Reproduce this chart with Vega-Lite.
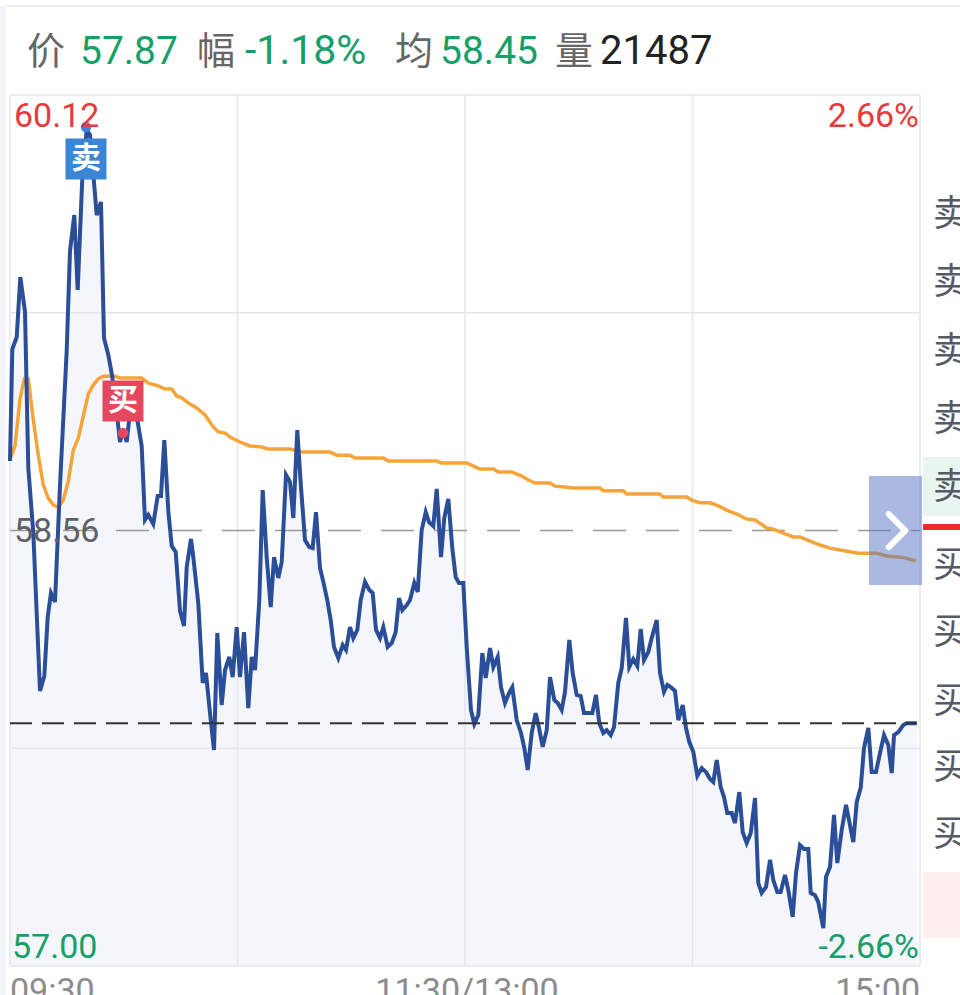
{
"$schema":"https://vega.github.io/schema/vega-lite/v6.json",
"width":960,"height":995,"autosize":"none","padding":0,"background":"white",
"config":{"view":{"stroke":null},"text":{"font":"Roboto, Noto Sans CJK SC, sans-serif"}},
"datasets":{
"price":[
{"t":0,"p":58.809},{"t":0.61,"p":59.21},{"t":1.77,"p":59.253},{"t":2.72,"p":59.468},{"t":3.96,"p":59.343},{"t":4.83,"p":58.784},{"t":6.15,"p":58.551},{"t":7.91,"p":57.985},{"t":9.05,"p":58.039},{"t":9.94,"p":58.25},{"t":10.81,"p":58.336},{"t":11.87,"p":58.304},{"t":13.19,"p":58.723},{"t":14.95,"p":59.203},{"t":15.82,"p":59.561},{"t":16.96,"p":59.69},{"t":17.85,"p":59.422},{"t":19.07,"p":59.823},{"t":20.23,"p":59.995},{"t":21.1,"p":59.977},{"t":21.97,"p":59.837},{"t":22.87,"p":59.69},{"t":24.0,"p":59.737},{"t":24.79,"p":59.25},{"t":25.93,"p":59.189},{"t":26.98,"p":59.11},{"t":28.14,"p":58.985},{"t":29.01,"p":58.877},{"t":29.88,"p":58.924},{"t":30.78,"p":58.877},{"t":31.65,"p":58.985},{"t":33.42,"p":58.97},{"t":34.73,"p":58.863},{"t":35.6,"p":58.598},{"t":36.48,"p":58.616},{"t":37.79,"p":58.583},{"t":38.95,"p":58.684},{"t":39.82,"p":58.684},{"t":40.7,"p":58.884},{"t":41.75,"p":58.63},{"t":42.65,"p":58.505},{"t":43.7,"p":58.483},{"t":44.84,"p":58.272},{"t":45.89,"p":58.218},{"t":46.6,"p":58.429},{"t":47.74,"p":58.53},{"t":48.34,"p":58.465},{"t":49.66,"p":58.3},{"t":50.82,"p":58.014},{"t":51.69,"p":58.05},{"t":52.75,"p":57.906},{"t":53.8,"p":57.774},{"t":54.67,"p":58.193},{"t":55.83,"p":57.935},{"t":56.7,"p":58.06},{"t":57.84,"p":58.107},{"t":58.73,"p":58.035},{"t":59.79,"p":58.214},{"t":60.66,"p":58.035},{"t":61.72,"p":58.196},{"t":62.85,"p":57.924},{"t":63.75,"p":58.107},{"t":64.62,"p":58.06},{"t":65.75,"p":58.311},{"t":66.65,"p":58.705},{"t":67.7,"p":58.465},{"t":68.76,"p":58.286},{"t":69.63,"p":58.465},{"t":70.76,"p":58.39},{"t":71.66,"p":58.447},{"t":72.79,"p":58.759},{"t":73.85,"p":58.734},{"t":74.72,"p":58.605},{"t":75.77,"p":58.92},{"t":76.67,"p":58.73},{"t":77.8,"p":58.526},{"t":78.94,"p":58.501},{"t":79.83,"p":58.497},{"t":80.7,"p":58.626},{"t":81.76,"p":58.426},{"t":82.63,"p":58.376},{"t":83.68,"p":58.311},{"t":84.58,"p":58.239},{"t":85.45,"p":58.143},{"t":86.59,"p":58.103},{"t":87.75,"p":58.15},{"t":88.62,"p":58.132},{"t":89.67,"p":58.214},{"t":90.54,"p":58.175},{"t":91.6,"p":58.204},{"t":92.49,"p":58.311},{"t":93.63,"p":58.376},{"t":94.76,"p":58.347},{"t":95.66,"p":58.336},{"t":96.53,"p":58.204},{"t":97.58,"p":58.175},{"t":98.46,"p":58.214},{"t":99.61,"p":58.143},{"t":100.67,"p":58.157},{"t":101.72,"p":58.196},{"t":102.6,"p":58.318},{"t":103.46,"p":58.275},{"t":104.63,"p":58.293},{"t":105.5,"p":58.311},{"t":106.63,"p":58.372},{"t":107.53,"p":58.34},{"t":108.58,"p":58.562},{"t":109.64,"p":58.626},{"t":110.51,"p":58.59},{"t":111.64,"p":58.576},{"t":112.54,"p":58.709},{"t":113.67,"p":58.465},{"t":114.54,"p":58.605},{"t":115.6,"p":58.673},{"t":116.65,"p":58.497},{"t":117.55,"p":58.393},{"t":118.42,"p":58.372},{"t":119.55,"p":58.372},{"t":120.45,"p":58.143},{"t":121.58,"p":57.917},{"t":122.46,"p":57.867},{"t":123.51,"p":57.899},{"t":124.57,"p":58.121},{"t":125.46,"p":58.032},{"t":126.6,"p":58.139},{"t":127.47,"p":58.071},{"t":128.63,"p":58.107},{"t":129.5,"p":57.999},{"t":130.55,"p":57.942},{"t":131.61,"p":57.978},{"t":132.48,"p":57.999},{"t":133.64,"p":57.881},{"t":134.77,"p":57.835},{"t":135.64,"p":57.781},{"t":136.54,"p":57.702},{"t":137.59,"p":57.835},{"t":138.65,"p":57.906},{"t":139.52,"p":57.853},{"t":140.49,"p":57.785},{"t":141.55,"p":57.845},{"t":142.42,"p":58.035},{"t":143.55,"p":57.953},{"t":144.45,"p":57.942},{"t":145.5,"p":57.917},{"t":146.37,"p":57.982},{"t":147.51,"p":58.168},{"t":148.4,"p":58.05},{"t":149.46,"p":57.971},{"t":150.51,"p":57.967},{"t":151.39,"p":57.906},{"t":153.58,"p":57.906},{"t":154.55,"p":57.971},{"t":155.42,"p":57.87},{"t":156.48,"p":57.835},{"t":157.37,"p":57.845},{"t":158.43,"p":57.827},{"t":159.3,"p":57.856},{"t":160.43,"p":58.014},{"t":161.33,"p":58.067},{"t":162.46,"p":58.247},{"t":163.33,"p":58.071},{"t":164.39,"p":58.1},{"t":165.44,"p":58.075},{"t":166.34,"p":58.207},{"t":167.21,"p":58.096},{"t":168.35,"p":58.125},{"t":169.24,"p":58.175},{"t":170.56,"p":58.239},{"t":171.43,"p":58.05},{"t":172.49,"p":57.982},{"t":173.36,"p":58.007},{"t":174.26,"p":57.999},{"t":175.39,"p":57.985},{"t":176.26,"p":57.881},{"t":177.42,"p":57.935},{"t":178.29,"p":57.853},{"t":179.16,"p":57.802},{"t":180.21,"p":57.767},{"t":181.27,"p":57.681},{"t":182.43,"p":57.709},{"t":183.56,"p":57.695},{"t":184.62,"p":57.67},{"t":185.49,"p":57.659},{"t":186.39,"p":57.738},{"t":187.44,"p":57.641},{"t":188.31,"p":57.605},{"t":189.18,"p":57.548},{"t":190.34,"p":57.548},{"t":191.21,"p":57.512},{"t":192.34,"p":57.623},{"t":193.24,"p":57.48},{"t":194.29,"p":57.441},{"t":195.35,"p":57.476},{"t":196.49,"p":57.602},{"t":197.36,"p":57.297},{"t":198.25,"p":57.262},{"t":199.39,"p":57.283},{"t":200.44,"p":57.38},{"t":201.31,"p":57.308},{"t":202.37,"p":57.265},{"t":203.26,"p":57.265},{"t":204.4,"p":57.326},{"t":205.27,"p":57.272},{"t":206.43,"p":57.176},{"t":207.3,"p":57.333},{"t":208.35,"p":57.433},{"t":209.41,"p":57.419},{"t":210.54,"p":57.419},{"t":211.18,"p":57.262},{"t":212.31,"p":57.254},{"t":213.18,"p":57.229},{"t":214.5,"p":57.136},{"t":215.21,"p":57.319},{"t":216.27,"p":57.355},{"t":217.32,"p":57.541},{"t":218.19,"p":57.369},{"t":219.35,"p":57.487},{"t":220.49,"p":57.577},{"t":221.36,"p":57.516},{"t":222.41,"p":57.444},{"t":223.31,"p":57.588},{"t":224.36,"p":57.638},{"t":225.23,"p":57.781},{"t":226.37,"p":57.853},{"t":227.26,"p":57.695},{"t":228.4,"p":57.695},{"t":229.45,"p":57.763},{"t":230.51,"p":57.827},{"t":231.64,"p":57.792},{"t":232.54,"p":57.691},{"t":233.15,"p":57.827},{"t":234.28,"p":57.838},{"t":235.6,"p":57.863},{"t":236.5,"p":57.87},{"t":239.13,"p":57.87}
],
"avg":[
{"t":0,"p":58.816},{"t":1.32,"p":58.863},{"t":2.64,"p":59.031},{"t":3.77,"p":59.103},{"t":4.83,"p":59.103},{"t":6.15,"p":58.956},{"t":7.46,"p":58.83},{"t":8.78,"p":58.723},{"t":10.1,"p":58.676},{"t":11.42,"p":58.651},{"t":12.74,"p":58.644},{"t":14.06,"p":58.669},{"t":15.38,"p":58.737},{"t":16.69,"p":58.848},{"t":18.01,"p":58.891},{"t":19.33,"p":58.97},{"t":20.65,"p":59.049},{"t":21.97,"p":59.081},{"t":23.29,"p":59.103},{"t":24.61,"p":59.113},{"t":27.69,"p":59.113},{"t":29.01,"p":59.106},{"t":34.73,"p":59.106},{"t":36.48,"p":59.088},{"t":39.11,"p":59.078},{"t":40.88,"p":59.067},{"t":42.65,"p":59.067},{"t":43.97,"p":59.042},{"t":45.28,"p":59.035},{"t":47.03,"p":59.017},{"t":49.24,"p":58.999},{"t":51.43,"p":58.974},{"t":53.62,"p":58.931},{"t":54.94,"p":58.913},{"t":56.7,"p":58.909},{"t":58.47,"p":58.891},{"t":60.66,"p":58.877},{"t":63.3,"p":58.863},{"t":66.38,"p":58.859},{"t":68.12,"p":58.852},{"t":73.85,"p":58.852},{"t":76.93,"p":58.841},{"t":84.4,"p":58.841},{"t":86.16,"p":58.83},{"t":89.67,"p":58.83},{"t":90.99,"p":58.82},{"t":98.46,"p":58.82},{"t":99.77,"p":58.809},{"t":112.54,"p":58.809},{"t":113.86,"p":58.802},{"t":120.45,"p":58.802},{"t":122.64,"p":58.788},{"t":123.96,"p":58.78},{"t":127.47,"p":58.78},{"t":128.79,"p":58.77},{"t":132.32,"p":58.77},{"t":134.96,"p":58.755},{"t":136.7,"p":58.741},{"t":138.46,"p":58.73},{"t":142.42,"p":58.73},{"t":143.74,"p":58.719},{"t":146.37,"p":58.716},{"t":148.56,"p":58.712},{"t":155.61,"p":58.712},{"t":156.48,"p":58.702},{"t":161.75,"p":58.702},{"t":162.65,"p":58.691},{"t":171.43,"p":58.691},{"t":172.3,"p":58.68},{"t":178.47,"p":58.68},{"t":179.79,"p":58.669},{"t":181.98,"p":58.659},{"t":184.62,"p":58.659},{"t":186.81,"p":58.648},{"t":189.02,"p":58.633},{"t":191.66,"p":58.619},{"t":194.3,"p":58.601},{"t":196.49,"p":58.598},{"t":199.57,"p":58.569},{"t":201.31,"p":58.565},{"t":203.95,"p":58.551},{"t":206.59,"p":58.537},{"t":208.35,"p":58.537},{"t":210.99,"p":58.522},{"t":213.63,"p":58.508},{"t":216.27,"p":58.497},{"t":218.91,"p":58.49},{"t":223.73,"p":58.479},{"t":228.58,"p":58.479},{"t":231.22,"p":58.469},{"t":234.28,"p":58.465},{"t":236.04,"p":58.462},{"t":238.94,"p":58.451}
],
"trades":[{"t":20.04,"p":60.005,"side":"卖"},{"t":29.8,"p":58.909,"side":"买"}],
"vgrid":[{"t":0},{"t":60},{"t":120},{"t":180},{"t":240}],
"hgrid":[{"p":60.12},{"p":59.34},{"p":57.78},{"p":57.0}],
"one":[{"k":1}]
},
"layer":[
{"data":{"name":"one"},"mark":{"type":"rect","color":"#f2f3f7"},"encoding":{"x":{"datum":-2.637,"scale":{"domain":[-2.637,250.55],"nice":false,"zero":false},"axis":null},"x2":{"datum":-1.055},"y":{"datum":56.8962,"scale":{"domain":[56.8962,60.4603],"nice":false,"zero":false},"axis":null},"y2":{"datum":60.4388}}},
{"data":{"name":"one"},"mark":{"type":"rule","color":"#e6e8ed","strokeWidth":1.5},"encoding":{"x":{"datum":-1.055},"x2":{"datum":250.55},"y":{"datum":60.4388}}},
{"data":{"name":"price"},"mark":{"type":"area","color":"#f4f6fc","opacity":1},"encoding":{"x":{"field":"t","type":"quantitative"},"y":{"field":"p","type":"quantitative"},"y2":{"datum":57.0}}},
{"data":{"name":"vgrid"},"mark":{"type":"rule","color":"#e4e6ec","strokeWidth":1.5},"encoding":{"x":{"field":"t","type":"quantitative"},"y":{"datum":57.0},"y2":{"datum":60.12}}},
{"data":{"name":"hgrid"},"mark":{"type":"rule","color":"#e4e6ec","strokeWidth":1.5},"encoding":{"y":{"field":"p","type":"quantitative"},"x":{"datum":0},"x2":{"datum":240}}},
{"data":{"name":"one"},"mark":{"type":"rule","color":"#9a9a9a","strokeWidth":1.5,"strokeDash":[33,20]},"encoding":{"y":{"datum":58.56},"x":{"datum":0},"x2":{"datum":240}}},
{"data":{"name":"avg"},"mark":{"type":"line","color":"#f5a43a","strokeWidth":3.5},"encoding":{"x":{"field":"t","type":"quantitative"},"y":{"field":"p","type":"quantitative"}}},
{"data":{"name":"price"},"mark":{"type":"line","color":"#2b4e98","strokeWidth":4,"strokeJoin":"miter"},"encoding":{"x":{"field":"t","type":"quantitative"},"y":{"field":"p","type":"quantitative"}}},
{"data":{"name":"one"},"mark":{"type":"rule","color":"#333333","strokeWidth":2,"strokeDash":[22,10]},"encoding":{"y":{"datum":57.87},"x":{"datum":0},"x2":{"datum":239.2}}},
{"data":{"name":"trades"},"mark":{"type":"point","shape":"circle","filled":true,"opacity":1,"size":110},"encoding":{"x":{"field":"t","type":"quantitative"},"y":{"field":"p","type":"quantitative"},"color":{"field":"side","type":"nominal","scale":{"domain":["卖","买"],"range":["#3a86d4","#e5485e"]},"legend":null}}},
{"data":{"name":"trades"},"transform":[{"filter":"datum.side === '卖'"}],"mark":{"type":"point","shape":"square","filled":true,"opacity":1,"size":1681,"yOffset":32,"color":"#3a86d4"},"encoding":{"x":{"field":"t","type":"quantitative"},"y":{"field":"p","type":"quantitative"}}},
{"data":{"name":"trades"},"transform":[{"filter":"datum.side === '卖'"}],"mark":{"type":"text","fontSize":30,"fontWeight":"bold","color":"white","baseline":"middle","align":"center","yOffset":32},"encoding":{"x":{"field":"t","type":"quantitative"},"y":{"field":"p","type":"quantitative"},"text":{"field":"side"}}},
{"data":{"name":"trades"},"transform":[{"filter":"datum.side === '买'"}],"mark":{"type":"point","shape":"square","filled":true,"opacity":1,"size":1681,"yOffset":-32,"color":"#e5485e"},"encoding":{"x":{"field":"t","type":"quantitative"},"y":{"field":"p","type":"quantitative"}}},
{"data":{"name":"trades"},"transform":[{"filter":"datum.side === '买'"}],"mark":{"type":"text","fontSize":30,"fontWeight":"bold","color":"white","baseline":"middle","align":"center","yOffset":-32},"encoding":{"x":{"field":"t","type":"quantitative"},"y":{"field":"p","type":"quantitative"},"text":{"field":"side"}}},
{"data":{"name":"one"},"mark":{"type":"rect","color":"#5474c4","opacity":0.5},"encoding":{"x":{"datum":226.55},"x2":{"datum":240.53},"y":{"datum":58.755},"y2":{"datum":58.365}}},
{"data":{"name":"one"},"mark":{"type":"point","shape":"M -0.5 -1 L 0.5 0 L -0.5 1","filled":false,"color":"white","opacity":1,"strokeWidth":6,"strokeCap":"round","strokeJoin":"round","size":1089},"encoding":{"x":{"datum":233.94},"y":{"datum":58.56}}},
{"data":{"name":"one"},"mark":{"type":"text","fontSize":34,"color":"#e8393c","align":"left","baseline":"alphabetic"},"encoding":{"x":{"datum":1.055},"y":{"datum":60.0054},"text":{"value":"60.12"}}},
{"data":{"name":"one"},"mark":{"type":"text","fontSize":34,"color":"#e8393c","align":"right","baseline":"alphabetic"},"encoding":{"x":{"datum":239.74},"y":{"datum":60.0054},"text":{"value":"2.66%"}}},
{"data":{"name":"one"},"mark":{"type":"text","fontSize":34,"color":"#5f5f66","align":"left","baseline":"alphabetic"},"encoding":{"x":{"datum":1.055},"y":{"datum":58.5188},"text":{"value":"58.56"}}},
{"data":{"name":"one"},"mark":{"type":"text","fontSize":34,"color":"#15a06a","align":"left","baseline":"alphabetic"},"encoding":{"x":{"datum":0.527},"y":{"datum":57.0286},"text":{"value":"57.00"}}},
{"data":{"name":"one"},"mark":{"type":"text","fontSize":34,"color":"#15a06a","align":"right","baseline":"alphabetic"},"encoding":{"x":{"datum":239.74},"y":{"datum":57.0286},"text":{"value":"-2.66%"}}},
{"data":{"name":"one"},"mark":{"type":"text","fontSize":34,"color":"#8c8c8c","align":"left","baseline":"alphabetic"},"encoding":{"x":{"datum":0},"y":{"datum":56.871},"text":{"value":"09:30"}}},
{"data":{"name":"one"},"mark":{"type":"text","fontSize":34,"color":"#8c8c8c","align":"center","baseline":"alphabetic"},"encoding":{"x":{"datum":120.53},"y":{"datum":56.871},"text":{"value":"11:30/13:00"}}},
{"data":{"name":"one"},"mark":{"type":"text","fontSize":34,"color":"#8c8c8c","align":"right","baseline":"alphabetic"},"encoding":{"x":{"datum":240},"y":{"datum":56.871},"text":{"value":"15:00"}}},
{"data":{"name":"one"},"mark":{"type":"text","fontSize":38,"color":"#666666","align":"left","baseline":"alphabetic"},"encoding":{"x":{"datum":4.48},"y":{"datum":60.2311},"text":{"value":"价"}}},
{"data":{"name":"one"},"mark":{"type":"text","fontSize":39,"color":"#15a06a","align":"left","baseline":"alphabetic"},"encoding":{"x":{"datum":18.46},"y":{"datum":60.2311},"text":{"value":"57.87"}}},
{"data":{"name":"one"},"mark":{"type":"text","fontSize":38,"color":"#666666","align":"left","baseline":"alphabetic"},"encoding":{"x":{"datum":49.32},"y":{"datum":60.2311},"text":{"value":"幅"}}},
{"data":{"name":"one"},"mark":{"type":"text","fontSize":41,"color":"#15a06a","align":"left","baseline":"alphabetic"},"encoding":{"x":{"datum":61.98},"y":{"datum":60.2311},"text":{"value":"-1.18%"}}},
{"data":{"name":"one"},"mark":{"type":"text","fontSize":38,"color":"#666666","align":"left","baseline":"alphabetic"},"encoding":{"x":{"datum":101.54},"y":{"datum":60.2311},"text":{"value":"均"}}},
{"data":{"name":"one"},"mark":{"type":"text","fontSize":39,"color":"#15a06a","align":"left","baseline":"alphabetic"},"encoding":{"x":{"datum":113.41},"y":{"datum":60.2311},"text":{"value":"58.45"}}},
{"data":{"name":"one"},"mark":{"type":"text","fontSize":38,"color":"#666666","align":"left","baseline":"alphabetic"},"encoding":{"x":{"datum":143.74},"y":{"datum":60.2311},"text":{"value":"量"}}},
{"data":{"name":"one"},"mark":{"type":"text","fontSize":40,"color":"#222222","align":"left","baseline":"alphabetic"},"encoding":{"x":{"datum":155.61},"y":{"datum":60.2311},"text":{"value":"21487"}}},
{"data":{"name":"one"},"mark":{"type":"rect","color":"#e9f6ef"},"encoding":{"x":{"datum":240.79},"x2":{"datum":250.55},"y":{"datum":58.823},"y2":{"datum":58.612}}},
{"data":{"name":"one"},"mark":{"type":"rect","color":"#ee2a2a"},"encoding":{"x":{"datum":240.79},"x2":{"datum":250.55},"y":{"datum":58.5833},"y2":{"datum":58.5618}}},
{"data":{"name":"one"},"mark":{"type":"rect","color":"#fdeeee"},"encoding":{"x":{"datum":240.79},"x2":{"datum":250.55},"y":{"datum":57.337},"y2":{"datum":57.1}}},
{"data":{"name":"one"},"mark":{"type":"text","fontSize":36,"color":"#555b66","align":"left","baseline":"middle"},"encoding":{"x":{"datum":243.43},"y":{"datum":59.69},"text":{"value":"卖5"}}},
{"data":{"name":"one"},"mark":{"type":"text","fontSize":36,"color":"#555b66","align":"left","baseline":"middle"},"encoding":{"x":{"datum":243.43},"y":{"datum":59.447},"text":{"value":"卖4"}}},
{"data":{"name":"one"},"mark":{"type":"text","fontSize":36,"color":"#555b66","align":"left","baseline":"middle"},"encoding":{"x":{"datum":243.43},"y":{"datum":59.199},"text":{"value":"卖3"}}},
{"data":{"name":"one"},"mark":{"type":"text","fontSize":36,"color":"#555b66","align":"left","baseline":"middle"},"encoding":{"x":{"datum":243.43},"y":{"datum":58.956},"text":{"value":"卖2"}}},
{"data":{"name":"one"},"mark":{"type":"text","fontSize":36,"color":"#555b66","align":"left","baseline":"middle"},"encoding":{"x":{"datum":243.43},"y":{"datum":58.712},"text":{"value":"卖1"}}},
{"data":{"name":"one"},"mark":{"type":"text","fontSize":36,"color":"#555b66","align":"left","baseline":"middle"},"encoding":{"x":{"datum":243.43},"y":{"datum":58.433},"text":{"value":"买1"}}},
{"data":{"name":"one"},"mark":{"type":"text","fontSize":36,"color":"#555b66","align":"left","baseline":"middle"},"encoding":{"x":{"datum":243.43},"y":{"datum":58.193},"text":{"value":"买2"}}},
{"data":{"name":"one"},"mark":{"type":"text","fontSize":36,"color":"#555b66","align":"left","baseline":"middle"},"encoding":{"x":{"datum":243.43},"y":{"datum":57.946},"text":{"value":"买3"}}},
{"data":{"name":"one"},"mark":{"type":"text","fontSize":36,"color":"#555b66","align":"left","baseline":"middle"},"encoding":{"x":{"datum":243.43},"y":{"datum":57.709},"text":{"value":"买4"}}},
{"data":{"name":"one"},"mark":{"type":"text","fontSize":36,"color":"#555b66","align":"left","baseline":"middle"},"encoding":{"x":{"datum":243.43},"y":{"datum":57.469},"text":{"value":"买5"}}}
]
}
